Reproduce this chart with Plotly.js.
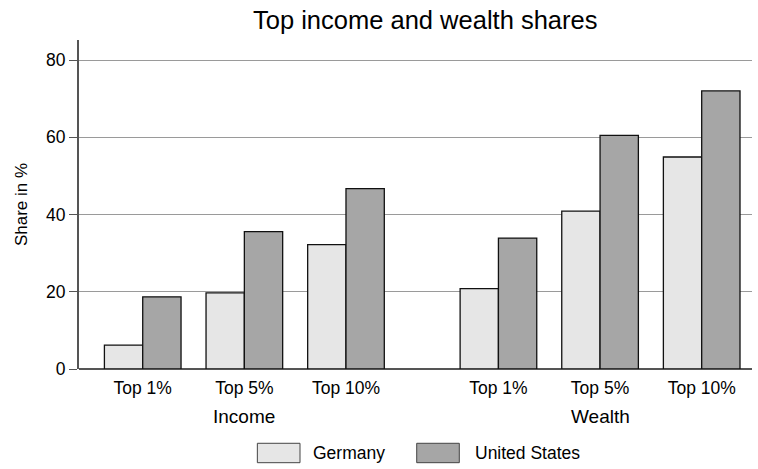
<!DOCTYPE html>
<html>
<head>
<meta charset="utf-8">
<script src="https://cdn.plot.ly/plotly-3.0.1.min.js"></script>
<style>html,body{margin:0;padding:0;background:#fff;}#chart{width:758px;height:469px;}</style>
</head>
<body>
<div id="chart"></div>
<script>
const groups = ["Income", "Wealth"];
const categories = ["Top 1%", "Top 5%", "Top 10%"];
const germany = [6.2, 19.7, 32.2, 20.8, 40.9, 54.9];
const unitedStates = [18.7, 35.6, 46.7, 33.9, 60.5, 72.0];
const seriesNames = ["Germany", "United States"];
const seriesColors = ["#e6e6e6", "#a6a6a6"];

const groupStep = 3.5;
const xPos = [];
const tickText = [];
groups.forEach((g, gi) => categories.forEach((c, ci) => { xPos.push(gi * groupStep + ci); tickText.push(c); }));

const font = "Liberation Sans, Arial, sans-serif";
const traces = [germany, unitedStates].map((vals, i) => ({
  type: "bar", name: seriesNames[i], x: xPos, y: vals,
  marker: {color: seriesColors[i], line: {color: "#111", width: 1.3}}
}));

const annotations = groups.map((g, gi) => ({
  text: g, x: gi * groupStep + 1, xref: "x", y: 0, yref: "paper", yanchor: "middle",
  yshift: -47, showarrow: false, font: {family: font, size: 19, color: "#000"}
}));

// custom legend (wide rectangles like the reference)
const legendItems = [
  {box: [0.265, 0.3284], textX: 0.3443},
  {box: [0.5018, 0.5651], textX: 0.5859}
];
const shapes = [];
legendItems.forEach((it, i) => {
  shapes.push({type: "rect", xref: "paper", yref: "paper", x0: it.box[0], x1: it.box[1], y0: -0.2848, y1: -0.2258,
               fillcolor: seriesColors[i], line: {color: "#444", width: 1}});
  annotations.push({text: seriesNames[i], xref: "paper", yref: "paper", x: it.textX, y: -0.2553,
                    xanchor: "left", yanchor: "middle", showarrow: false,
                    font: {family: font, size: 17.5, color: "#000"}});
});

const layout = {
  width: 758, height: 469,
  margin: {l: 79, r: 6, t: 40, b: 100},
  paper_bgcolor: "#fff", plot_bgcolor: "#fff",
  font: {family: font, color: "#000"},
  title: {text: "Top income and wealth shares", x: 0.561, xanchor: "center", y: 0.958, yanchor: "middle",
          font: {family: font, size: 25.5, color: "#000"}},
  barmode: "group", bargap: 0.246, bargroupgap: 0,
  xaxis: {range: [-0.627, 5.995], tickvals: xPos, ticktext: tickText, showgrid: false, zeroline: false,
          showline: false, ticks: "outside", ticklen: 3, tickcolor: "rgba(0,0,0,0)",
          tickfont: {family: font, size: 17.5, color: "#000"}, fixedrange: true},
  yaxis: {range: [0, 85.2], tickvals: [0, 20, 40, 60, 80], showgrid: true, gridcolor: "#9a9a9a", gridwidth: 1,
          zeroline: true, zerolinecolor: "#555", zerolinewidth: 2,
          showline: true, linecolor: "#555", linewidth: 2, ticks: "outside", ticklen: 8, tickcolor: "#555",
          tickfont: {family: font, size: 17.5, color: "#000"},
          title: {text: "Share in %", font: {family: font, size: 17, color: "#000"}, standoff: 14}},
  annotations: annotations,
  shapes: shapes,
  showlegend: false
};

Plotly.newPlot("chart", traces, layout, {displayModeBar: false, staticPlot: true});
</script>
</body>
</html>
